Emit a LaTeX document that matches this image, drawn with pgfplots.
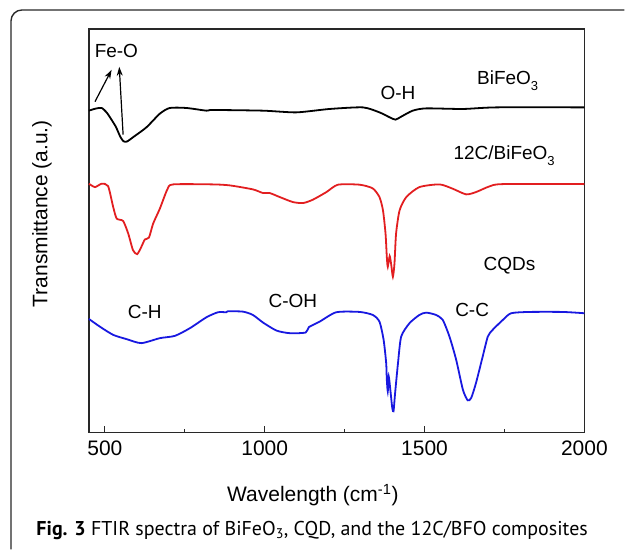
\documentclass[border=0pt]{standalone}
\usepackage{fontspec}
\setmainfont{Liberation Sans}
\newfontfamily\capfont{PT Sans}
\usepackage{pgfplots}
\pgfplotsset{compat=1.18}
\usetikzlibrary{arrows.meta}

\definecolor{ftred}{RGB}{226,30,32}
\definecolor{ftblue}{RGB}{24,24,224}
\definecolor{frame}{RGB}{40,40,40}
\newcommand{\lowsub}[1]{\raisebox{-6pt}{\fontsize{13}{15}\selectfont #1}}

\begin{document}
\begin{tikzpicture}[x=1pt,y=1pt]
\path (0,0) rectangle (625,550);
% outer frame (top and left, rounded corner)
\draw[frame, line width=1.4pt, rounded corners=11pt] (11,0) -- (11,540) -- (625,540);

\begin{axis}[
    at={(89pt,117pt)}, anchor=south west,
    scale only axis, width=496pt, height=404pt,
    xmin=450, xmax=2000,
    ymin=117, ymax=522,
    axis line style={frame, line width=1.3pt},
    xtick={500,1000,1500,2000},
    minor xtick={750,1250,1750},
    xtick pos=bottom, xtick align=inside,
    major tick length=7pt, minor tick length=4pt,
    every tick/.style={frame, line width=1.2pt},
    ytick=\empty,
    /pgf/number format/assume math mode=true,
    /pgf/number format/1000 sep={},
    ticklabel style={font=\fontsize{21}{24}\selectfont},
    xticklabel style={yshift=-5pt},
    xlabel={Wavelength (cm\textsuperscript{-1})},
    ylabel={Transmittance (a.u.)},
    label style={font=\fontsize{21}{24}\selectfont},
    xlabel style={at={(axis description cs:0.452,-0.155)}, anchor=center},
    ylabel style={at={(axis description cs:-0.095,0.542)}, anchor=center},
    clip=false,
]
% BiFeO3
\addplot[black, line width=1.8pt, smooth, tension=0.4] coordinates {
(450,440)(470,442)(490,442.7)(506,438)(516,433.3)(534,424)(548,414)(558,409.3)
(569,409)(588,413.3)(630,423.3)(672,437)(703,442.7)(755,442.7)(818,440)
(838,440.7)(995,440)(1099,438.3)(1203,441.7)(1307,443.3)(1359,438.3)
(1391,433.3)(1409,431)(1427,434)(1463,440)(1505,442.3)(1620,441.7)
(1724,443.3)(2000,443.3)
};
% 12C/BiFeO3
\addplot[ftred, line width=1.8pt, smooth, tension=0.4] coordinates {
(450,366.7)(469,363.3)(490,366.7)(510,364.3)(526,343.3)(537,331.7)(557,329.3)
(573,316.7)(588,300)(601,296)(614,303.3)(625,310.7)(638,312.7)(651,326.7)
(672,341.7)(695,360.7)(713,366)(838,366)(891,365)(963,361)(995,357.3)
(1016,357.3)(1047,353.3)(1088,348.3)(1120,347.3)(1151,350.7)(1193,358.3)
(1229,365.7)(1297,365.7)(1338,362)(1359,353.3)(1370,340)(1378,316.7)
(1382,293.3)(1385,283.3)(1391,294)(1396,285)(1401,273.3)(1406,286.7)
(1411,316.7)(1422,340)(1443,353.3)(1484,363.3)(1547,366)(1588,361.7)
(1630,356)(1661,358.3)(1703,364)(1745,366.3)(2000,366.3)
};
% CQDs
\addplot[ftblue, line width=1.8pt, smooth, tension=0.4] coordinates {
(450,231)(484,223.3)(526,215)(568,210.7)(614,206.7)(672,211.7)(719,214)
(766,221.7)(818,232.7)(854,237.7)(880,237.7)(885,238.7)(932,238.3)(963,235)
(995,227.3)(1037,219.3)(1078,216.7)(1128,217.3)(1138,222.7)(1172,228.3)
(1224,237.7)(1297,238)(1338,235)(1359,228.3)(1372,210)(1380,186.7)
(1382,170)(1385,158.3)(1388,173.3)(1393,160)(1399,141.7)(1403,138.3)
(1408,156.7)(1417,186.7)(1427,213.3)(1453,226.7)(1484,235)(1505,237.3)
(1536,235)(1557,230)(1578,213.3)(1599,190)(1620,160)(1635,149.3)
(1646,151.7)(1661,166.7)(1682,193.3)(1698,213.3)(1713,220)(1745,230)
(1771,236.7)(1828,238)(1932,238)(2000,236.7)
};

\tikzset{lab/.style={font=\fontsize{19}{22}\selectfont, anchor=center}}
\node[lab] at (axis cs:536,500) {Fe-O};
\draw[black, line width=1.2pt, -{Stealth[length=9pt,width=6pt]}] (axis cs:469,449) -- (axis cs:521,481);
\draw[black, line width=1.2pt, -{Stealth[length=9pt,width=6pt]}] (axis cs:557,416) -- (axis cs:545,484);
\node[lab] at (axis cs:1417,458) {O-H};
\node[lab] at (axis cs:1760,470) {BiFeO\lowsub{3}};
\node[lab] at (axis cs:1749,395) {12C/BiFeO\lowsub{3}};
\node[lab] at (axis cs:1766,284) {CQDs};
\node[lab] at (axis cs:625,238) {C-H};
\node[lab] at (axis cs:1088,249) {C-OH};
\node[lab] at (axis cs:1649,240) {C-C};
\end{axis}

\node[anchor=west, font=\capfont\fontsize{20}{23}\selectfont] at (33,19)
  {\textbf{Fig. 3} FTIR spectra of BiFeO\textsubscript{3}, CQD, and the 12C/BFO composites};
\end{tikzpicture}
\end{document}
